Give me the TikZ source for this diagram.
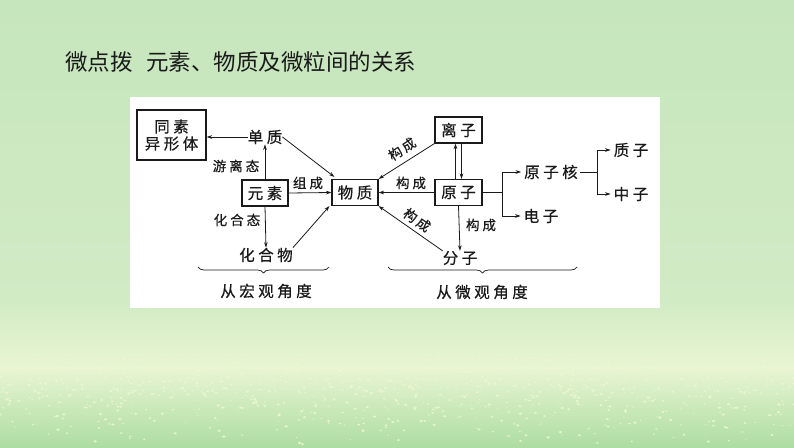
\documentclass[tikz,border=0pt]{standalone}
\usepackage{fontspec}
\newfontfamily\cjk{Noto Sans CJK SC}
\newfontfamily\cjkd[FakeBold=0.5]{Noto Sans CJK SC}
\newcommand\gs{\hspace{3.5pt}}
\newcommand\gl{\hspace{3pt}}
\usetikzlibrary{arrows.meta,decorations.pathreplacing}
\definecolor{bgA}{HTML}{C6E6BD}
\definecolor{bgB}{HTML}{D1EBC5}
\definecolor{bgC}{HTML}{E9F5D3}
\definecolor{bgD}{HTML}{ADDDA2}
\definecolor{speck}{HTML}{EEF7CF}
\definecolor{ink}{HTML}{1A1A1A}
\tikzset{
  box/.style={draw=ink,line width=1.1pt,fill=white,inner sep=0pt,font={\fontsize{15.5}{18}\cjkd},text=ink},
  txt/.style={inner sep=0pt,font={\fontsize{15.5}{18}\cjkd},text=ink},
  lbl/.style={inner sep=0pt,font={\fontsize{13.5}{15}\cjkd},text=ink},
  arr/.style={draw=ink,line width=0.8pt,-{Stealth[length=5.5pt,width=3.6pt]}},
  ln/.style={draw=ink,line width=0.8pt},
  brc/.style={draw=ink,line width=0.7pt,decorate,decoration={brace,mirror,amplitude=6pt}}
}
\begin{document}
\begin{tikzpicture}[x=1pt,y=-1pt]
\useasboundingbox (0,0) rectangle (794,447);
% background
\shade[top color=bgA,bottom color=bgB] (0,0) rectangle (794,300);
\shade[top color=bgB,bottom color=bgC] (0,299.5) rectangle (794,368);
\shade[top color=bgC,bottom color=bgD] (0,367.5) rectangle (794,447);
\pgfmathsetseed{7}
\foreach \i in {1,...,1100}{
  \pgfmathsetmacro\xx{rnd*794}
  \pgfmathsetmacro\yy{447-90*sqrt(rnd)}
  \pgfmathsetmacro\rr{0.6+rnd*1.3}
  \fill[speck,opacity=0.85] (\xx,\yy) ellipse [x radius=\rr,y radius=0.7*\rr];
}
% panel
\fill[white] (130,97) rectangle (660,308);
% title
\node[anchor=west,inner sep=0pt,font={\fontsize{22.5}{26}\cjk},text=ink] (title) at (65,62) {微点拨\hspace{0.6em}元素、物质及微粒间的关系};
% nodes
\node[box,minimum width=69pt,minimum height=50pt,align=center] (tsy) at (171.5,135) {同\gs 素\\[-1pt]异\gs 形\gs 体};
\node[txt] (dz) at (265,137) {单\gs 质};
\node[box,minimum width=46pt,minimum height=26pt] (ys) at (265,193) {元\gs 素};
\node[box,minimum width=46pt,minimum height=26pt] (wz) at (355,192.5) {物\gs 质};
\node[box,minimum width=47pt,minimum height=26pt] (lz) at (458.5,130) {离\gs 子};
\node[box,minimum width=47pt,minimum height=26pt] (yz) at (458.5,192.5) {原\gs 子};
\node[txt] (hhw) at (266,255) {化\gs 合\gs 物};
\node[txt] (fz) at (460,258) {分\gs 子};
\node[txt] (yzh) at (551,172) {原\gs 子\gs 核};
\node[txt] (dzi) at (541,216) {电\gs 子};
\node[txt] (zhz) at (631,150) {质\gs 子};
\node[txt] (zz) at (631,194) {中\gs 子};
\node[txt] (hg) at (266,291) {从\gs 宏\gs 观\gs 角\gs 度};
\node[txt] (wg) at (482,292) {从\gs 微\gs 观\gs 角\gs 度};
% labels
\node[lbl] (l1) at (236,166) {游\gl 离\gl 态};
\node[lbl] (l2) at (237,220) {化\gl 合\gl 态};
\node[lbl] (l3) at (308,183) {组\gl 成};
\node[lbl] (l4) at (411,183) {构\gl 成};
\node[lbl,rotate=33] (l5) at (402,149) {构\kern2.5pt成};
\node[lbl,rotate=-35] (l6) at (417,220) {构\kern2.5pt成};
\node[lbl] (l7) at (481,225) {构\gl 成};
% connectors
\draw[arr] (dz.west) -- (dz.west -| tsy.east);
\draw[arr] (ys.north) -- (dz.south);
\draw[arr] (ys.south) -- (hhw.north);
\draw[arr] (ys.east) -- (wz.west);
\draw[arr] (dz.east) -- ([shift={(3,-2)}]wz.north west);
\draw[arr] (hhw.north east) -- ([xshift=-2]wz.south west);
\draw[arr] (lz.south west) -- (wz.north east);
\draw[arr] (yz.west) -- (wz.east);
\draw[arr] (fz.north west) -- (wz.south east);
\draw[arr] ([xshift=-3]yz.north) -- ([xshift=-3]lz.south);
\draw[arr] ([xshift=3]lz.south) -- ([xshift=3]yz.north);
\draw[arr] (yz.south) -- (fz.north);
\coordinate (b1) at (502,192.5);
\coordinate (b2) at (597,172);
\draw[ln] (yz.east) -- (b1);
\draw[ln] (b1 |- yzh.west) -- (b1 |- dzi.west);
\draw[arr] (b1 |- yzh.west) -- ([xshift=-3]yzh.west);
\draw[arr] (b1 |- dzi.west) -- ([xshift=-3]dzi.west);
\draw[ln] ([xshift=2]yzh.east) -- (b2);
\draw[ln] (b2 |- zhz.west) -- (b2 |- zz.west);
\draw[arr] (b2 |- zhz.west) -- ([xshift=-3]zhz.west);
\draw[arr] (b2 |- zz.west) -- ([xshift=-3]zz.west);
% braces
\coordinate (p1) at (198,267);
\coordinate (p2) at (329,267);
\coordinate (p3) at (388,267);
\coordinate (p4) at (577,267);
\draw[brc] (p1) -- (p2);
\draw[brc] (p3) -- (p4);
\end{tikzpicture}
\end{document}
